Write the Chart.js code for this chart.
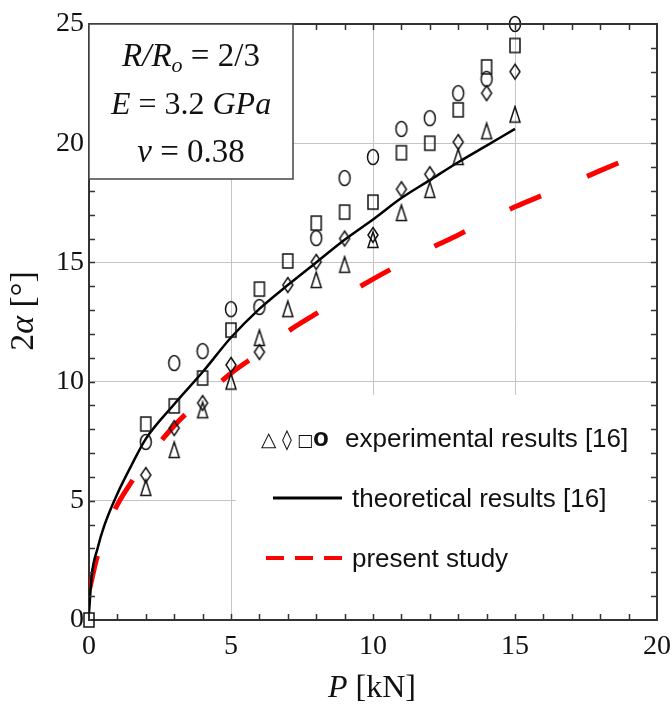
<!DOCTYPE html>
<html>
  <head>
    <title>Contact angle vs load</title>
    <script src="https://cdn.jsdelivr.net/npm/chart.js@4.4.1/dist/chart.umd.min.js"></script>
    <style>
      body { margin: 0; background: #fff; }
      #wrap { width: 672px; height: 704px; }
    </style>
  </head>
  <body>
    <div id="wrap"><canvas id="myChart" width="672" height="704"></canvas></div>

    <script>
      var loadP = [2, 3, 4, 5, 6, 7, 8, 9, 10, 11, 12, 13, 14, 15];
      var triA  = [5.54, 7.13, 8.8, 10.0, 11.83, 13.04, 14.26, 14.9, 15.94, 17.07, 18.04, 19.42, 20.5, 21.2];
      var diaA  = [6.08, 8.05, 9.1, 10.7, 11.24, 14.05, 15.02, 16.0, 16.15, 18.07, 18.7, 20.05, 22.1, 23.0];
      var sqP   = [0, 2, 3, 4, 5, 6, 7, 8, 9, 10, 11, 12, 13, 14, 15];
      var sqA   = [0, 8.22, 8.98, 10.15, 12.16, 13.88, 15.06, 16.65, 17.11, 17.53, 19.6, 20.0, 21.4, 23.2, 24.1];
      var circP = [2, 3, 4, 5, 6, 8, 9, 10, 11, 12, 13, 14, 15];
      var circA = [7.47, 10.78, 11.28, 13.04, 13.13, 16.02, 18.54, 19.42, 20.6, 21.05, 22.1, 22.7, 25.0];

      // theoretical results [16]
      var theoP = [0, 0.1, 0.3, 0.55, 1, 1.5, 2, 3, 4, 5, 6, 7, 8, 9, 10, 11, 12, 13, 14, 15];
      var theoA = [0.3, 1.9, 3.0, 4.0, 5.3, 6.5, 7.6, 9.05, 10.4, 11.85, 13.05, 14.05, 15.0, 15.95, 16.8, 17.7, 18.45, 19.2, 19.9, 20.6];

      // present study
      var presP = [0.02, 0.3, 0.9, 1.5, 2.2, 3, 4, 5, 6, 7, 8, 9, 10, 11, 12, 13, 14, 15, 16, 17, 18, 19];
      var presA = [1.3, 2.7, 4.6, 5.8, 7.0, 8.15, 9.3, 10.35, 11.2, 12.1, 12.85, 13.6, 14.3, 14.95, 15.58, 16.15, 16.75, 17.33, 17.83, 18.33, 18.85, 19.35];

      var xTicks = [0, 5, 10, 15, 20];
      var yTicks = [0, 5, 10, 15, 20, 25];

      var serif = '"Liberation Serif", "Times New Roman", serif';
      var sans = '"Liberation Sans", Arial, sans-serif';

      function pts(xs, ys) {
        return xs.map(function (v, i) { return { x: v, y: ys[i] }; });
      }

      function marker(shape) {
        var c = document.createElement('canvas');
        c.width = 16; c.height = 20;
        var g = c.getContext('2d');
        g.strokeStyle = '#111';
        g.lineWidth = 1.5;
        g.beginPath();
        if (shape == 'circle') g.ellipse(8, 10, 5.5, 7.5, 0, 0, 2 * Math.PI);
        if (shape == 'square') g.rect(3, 3, 10, 14);
        if (shape == 'diamond') { g.moveTo(8, 2.5); g.lineTo(13, 10); g.lineTo(8, 17.5); g.lineTo(3, 10); g.closePath(); }
        if (shape == 'triangle') { g.moveTo(8, 2); g.lineTo(13, 17.5); g.lineTo(3, 17.5); g.closePath(); }
        g.stroke();
        return c;
      }

      // draws a run of text pieces with their own font styles
      function drawParts(ctx, parts, x, y, size) {
        var total = 0;
        parts.forEach(function (p) {
          ctx.font = (p[1] || '') + ' ' + (p[2] || size) + 'px ' + serif;
          total += ctx.measureText(p[0]).width;
        });
        var cx = x - total / 2;
        parts.forEach(function (p) {
          ctx.font = (p[1] || '') + ' ' + (p[2] || size) + 'px ' + serif;
          ctx.fillText(p[0], cx, y + (p[3] || 0));
          cx += ctx.measureText(p[0]).width;
        });
      }

      var legendBg = {
        id: 'legendBg',
        beforeDatasetsDraw: function (chart) {
          var ctx = chart.ctx;
          ctx.save();
          ctx.fillStyle = '#fff';
          ctx.fillRect(236, 395, 412, 223);
          ctx.restore();
        }
      };

      var frame = {
        id: 'frame',
        afterDraw: function (chart) {
          var ctx = chart.ctx;
          var a = chart.chartArea;
          var x = chart.scales.x, y = chart.scales.y;
          ctx.save();
          ctx.strokeStyle = '#333';
          ctx.lineWidth = 2;
          ctx.beginPath();
          ctx.moveTo(a.left, a.top); ctx.lineTo(a.right, a.top); ctx.lineTo(a.right, a.bottom);
          ctx.stroke();

          // inner ticks on all sides
          ctx.lineWidth = 1.5;
          ctx.beginPath();
          for (var v = 1; v < 20; v++) {
            var px = Math.round(x.getPixelForValue(v)) + 0.5;
            ctx.moveTo(px, a.bottom); ctx.lineTo(px, a.bottom - 6);
            ctx.moveTo(px, a.top); ctx.lineTo(px, a.top + 6);
          }
          for (var w = 1; w < 25; w++) {
            var py = Math.round(y.getPixelForValue(w)) + 0.5;
            ctx.moveTo(a.left, py); ctx.lineTo(a.left + 6, py);
            ctx.moveTo(a.right, py); ctx.lineTo(a.right - 6, py);
          }
          ctx.stroke();

          // legend
          ctx.fillStyle = '#111';
          ctx.textAlign = 'left';
          ctx.textBaseline = 'alphabetic';
          ctx.font = '20px "DejaVu Sans", sans-serif';
          ctx.fillText('\u25B3', 261, 446);
          ctx.fillText('\u25CA', 282, 446);
          ctx.font = '17px "DejaVu Sans", sans-serif';
          ctx.fillText('\u25A1', 297, 446);
          ctx.font = 'bold 26px ' + sans;
          ctx.fillText('o', 313, 446);
          ctx.font = '26px ' + sans;
          ctx.fillText('experimental results [16]', 345, 447);
          ctx.fillText('theoretical results [16]', 352, 507);
          ctx.fillText('present study', 352, 567);
          ctx.strokeStyle = '#000';
          ctx.lineWidth = 3;
          ctx.beginPath(); ctx.moveTo(273, 498); ctx.lineTo(342, 498); ctx.stroke();
          ctx.strokeStyle = '#ff0000';
          ctx.lineWidth = 4;
          ctx.setLineDash([18, 11]);
          ctx.beginPath(); ctx.moveTo(266, 558); ctx.lineTo(342, 558); ctx.stroke();
          ctx.setLineDash([]);

          // parameter box
          ctx.fillStyle = '#fff';
          ctx.fillRect(a.left, a.top, 204, 155);
          ctx.strokeStyle = '#444';
          ctx.lineWidth = 1.5;
          ctx.strokeRect(a.left, a.top, 204, 155);
          ctx.fillStyle = '#111';
          drawParts(ctx, [['R/R', 'italic'], ['o', 'italic', 22, 6], [' = 2/3']], 191, 66, 33);
          drawParts(ctx, [['E', 'italic'], [' = 3.2 '], ['GPa', 'italic']], 191, 114, 32);
          drawParts(ctx, [['\u03BD', 'italic'], [' = 0.38']], 191, 162, 33);

          // axis titles
          drawParts(ctx, [['P', 'italic'], [' [kN]']], 372, 697, 32);
          ctx.save();
          ctx.translate(33, 311);
          ctx.rotate(-Math.PI / 2);
          drawParts(ctx, [['2'], ['\u03B1', 'italic'], [' [\u00B0]']], 0, 0, 34);
          ctx.restore();
          ctx.restore();
        }
      };

      function gridColor(c) {
        var v = c.tick.value;
        return (v == c.scale.min || v == c.scale.max) ? 'rgba(0,0,0,0)' : '#c4c4c4';
      }

      var ctx = document.getElementById('myChart').getContext('2d');
      var chart = new Chart(ctx, {
        type: 'scatter',
        data: {
          datasets: [
            { label: 'triangle', data: pts(loadP, triA), pointStyle: marker('triangle'), clip: false },
            { label: 'diamond', data: pts(loadP, diaA), pointStyle: marker('diamond'), clip: false },
            { label: 'square', data: pts(sqP, sqA), pointStyle: marker('square'), clip: false },
            { label: 'circle', data: pts(circP, circA), pointStyle: marker('circle'), clip: false },
            {
              label: 'theoretical results [16]', data: pts(theoP, theoA), showLine: true,
              borderColor: '#000', borderWidth: 2.5, pointRadius: 0, cubicInterpolationMode: 'monotone'
            },
            {
              label: 'present study', data: pts(presP, presA), showLine: true,
              borderColor: '#ff0000', borderWidth: 5, borderDash: [34, 50], borderCapStyle: 'butt',
              pointRadius: 0, cubicInterpolationMode: 'monotone'
            }
          ]
        },
        options: {
          responsive: false,
          animation: false,
          layout: { padding: { left: 0, right: 15, top: 24, bottom: 0 } },
          plugins: { legend: { display: false }, tooltip: { enabled: false } },
          scales: {
            x: {
              min: 0, max: 20,
              afterFit: function (s) { s.height = 84; s.paddingLeft = 0; s.paddingRight = 0; },
              afterBuildTicks: function (s) { s.ticks = xTicks.map(function (v) { return { value: v }; }); },
              grid: { color: gridColor, lineWidth: 1, drawTicks: false },
              border: { display: true, color: '#333', width: 2 },
              ticks: { font: { family: serif, size: 28 }, color: '#111', padding: 10, maxRotation: 0 }
            },
            y: {
              min: 0, max: 25,
              afterFit: function (s) { s.width = 89; s.paddingTop = 0; s.paddingBottom = 0; },
              afterBuildTicks: function (s) { s.ticks = yTicks.map(function (v) { return { value: v }; }); },
              grid: { color: gridColor, lineWidth: 1, drawTicks: false },
              border: { display: true, color: '#333', width: 2 },
              ticks: { font: { family: serif, size: 28 }, color: '#111', padding: 5 }
            }
          }
        },
        plugins: [legendBg, frame]
      });
    </script>
  </body>
</html>
